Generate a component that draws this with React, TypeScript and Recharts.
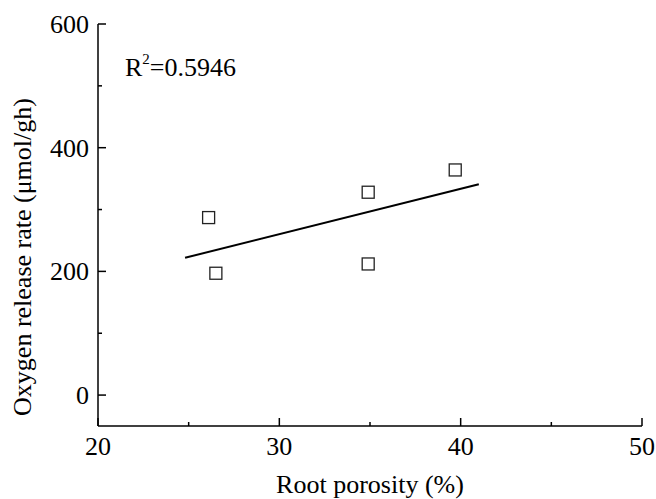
import { ScatterChart, Scatter, XAxis, YAxis, Label } from 'recharts';

// measured data points (root porosity %, oxygen release rate µmol/gh)
const porosity = [26.1, 26.5, 34.9, 34.9, 39.7];
const oxygenRate = [287, 197, 328, 212, 364];

// linear fit endpoints as drawn
const fitX = [24.8, 41.0];
const fitY = [222, 341];

const xMajorTicks = [20, 30, 40, 50];
const xMinorTicks = [25, 35, 45];
const yMajorTicks = [0, 200, 400, 600];
const yMinorTicks = [100, 300, 500];

const xTicks = [...xMajorTicks, ...xMinorTicks].sort((a, b) => a - b);
const yTicks = [...yMajorTicks, ...yMinorTicks].sort((a, b) => a - b);

const points = porosity.map((x, i) => ({ x, y: oxygenRate[i] }));
const fitLine = fitX.map((x, i) => ({ x, y: fitY[i] }));

const FONT = "'Liberation Serif', 'Times New Roman', serif";
const textStyle = { fontFamily: FONT, fontSize: 26, fill: '#000' };
const MAJOR = 8;
const MINOR = 4;

function BottomTick(props: any) {
  const { x, y, payload } = props;
  const major = xMajorTicks.includes(payload.value);
  return (
    <g>
      <line x1={x} x2={x} y1={y} y2={y - (major ? MAJOR : MINOR)} stroke="#000" strokeWidth={1.5} />
      {major && (
        <text x={x} y={y + 29} textAnchor="middle" style={textStyle}>
          {payload.value}
        </text>
      )}
    </g>
  );
}

function TopTick(props: any) {
  const { x, y, payload } = props;
  const major = xMajorTicks.includes(payload.value);
  return <line x1={x} x2={x} y1={y} y2={y + (major ? MAJOR : MINOR)} stroke="#000" strokeWidth={1.5} />;
}

function LeftTick(props: any) {
  const { x, y, payload } = props;
  const major = yMajorTicks.includes(payload.value);
  return (
    <g>
      <line x1={x} x2={x + (major ? MAJOR : MINOR)} y1={y} y2={y} stroke="#000" strokeWidth={1.5} />
      {major && (
        <text x={x - 9} y={y + 9} textAnchor="end" style={textStyle}>
          {payload.value}
        </text>
      )}
    </g>
  );
}

function RightTick(props: any) {
  const { x, y, payload } = props;
  const major = yMajorTicks.includes(payload.value);
  return <line x1={x} x2={x - (major ? MAJOR : MINOR)} y1={y} y2={y} stroke="#000" strokeWidth={1.5} />;
}

function SquareMark(props: any) {
  const { cx, cy } = props;
  return <rect x={cx - 6} y={cy - 6} width={12} height={12} fill="#fff" stroke="#222" strokeWidth={1.3} />;
}

const axisLine = { stroke: '#000', strokeWidth: 1.5 };

export default function App() {
  return (
    <div style={{ position: 'absolute', left: 0, top: 0, width: 656, height: 499, background: '#fff' }}>
      <ScatterChart width={656} height={499} margin={{ top: 24, right: 14, left: 0, bottom: 0 }}>
        <XAxis
          type="number"
          dataKey="x"
          domain={[20, 50]}
          ticks={xTicks}
          allowDataOverflow
          height={73}
          tickSize={0}
          tickMargin={0}
          tickLine={false}
          axisLine={axisLine}
          tick={BottomTick}
        >
          <Label
            content={({ viewBox }: any) => (
              <text x={viewBox.x + viewBox.width / 2} y={viewBox.y + 67} textAnchor="middle" style={textStyle}>
                Root porosity (%)
              </text>
            )}
          />
        </XAxis>
        <XAxis
          xAxisId="top"
          orientation="top"
          type="number"
          dataKey="x"
          domain={[20, 50]}
          ticks={xTicks}
          allowDataOverflow
          height={0}
          tickSize={0}
          tickMargin={0}
          tickLine={false}
          axisLine={axisLine}
          tick={TopTick}
        />
        <YAxis
          type="number"
          dataKey="y"
          domain={[-50, 600]}
          ticks={yTicks}
          allowDataOverflow
          width={98}
          tickSize={0}
          tickMargin={0}
          tickLine={false}
          axisLine={axisLine}
          tick={LeftTick}
        >
          <Label
            content={({ viewBox }: any) => {
              const cx = viewBox.x + 31;
              const cy = viewBox.y + viewBox.height / 2 + 32;
              return (
                <text
                  x={cx}
                  y={cy}
                  transform={`rotate(-90, ${cx}, ${cy})`}
                  textAnchor="middle"
                  style={textStyle}
                >
                  Oxygen release rate (μmol/gh)
                </text>
              );
            }}
          />
        </YAxis>
        <YAxis
          yAxisId="right"
          orientation="right"
          type="number"
          dataKey="y"
          domain={[-50, 600]}
          ticks={yTicks}
          allowDataOverflow
          width={0}
          tickSize={0}
          tickMargin={0}
          tickLine={false}
          axisLine={axisLine}
          tick={RightTick}
        />
        <Scatter
          data={fitLine}
          line={{ stroke: '#000', strokeWidth: 2 }}
          shape={() => <g />}
          isAnimationActive={false}
        />
        <Scatter data={points} shape={SquareMark} isAnimationActive={false} />
      </ScatterChart>
      <div
        style={{
          position: 'absolute',
          left: 125,
          top: 55,
          fontSize: 26,
          lineHeight: 1,
          fontFamily: FONT,
          color: '#000',
          whiteSpace: 'nowrap',
        }}
      >
        R<span style={{ fontSize: 15, position: 'relative', top: -12 }}>2</span>=0.5946
      </div>
    </div>
  );
}
